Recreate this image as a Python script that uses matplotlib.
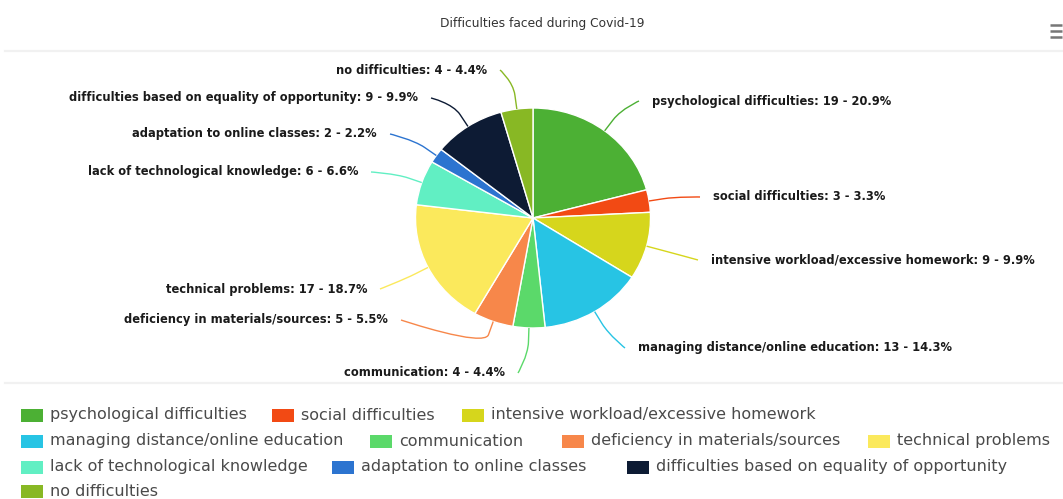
import numpy as np
import matplotlib
matplotlib.use("Agg")
import matplotlib.pyplot as plt
from matplotlib.path import Path
from matplotlib.patches import PathPatch, Rectangle

# ---- data -------------------------------------------------------------
categories = [
    "psychological difficulties",
    "social difficulties",
    "intensive workload/excessive homework",
    "managing distance/online education",
    "communication",
    "deficiency in materials/sources",
    "technical problems",
    "lack of technological knowledge",
    "adaptation to online classes",
    "difficulties based on equality of opportunity",
    "no difficulties",
]
counts = [19, 3, 9, 13, 4, 5, 17, 6, 2, 9, 4]
colors = [
    "#4cb034", "#f24a14", "#d6d61c", "#27c4e4", "#5bd96a", "#f7874a",
    "#fbe95c", "#61efc3", "#2c74d0", "#0d1b34", "#88b824",
]
title = "Difficulties faced during Covid-19"

# ---- layout (pixel units, origin top-left) ----------------------------
W, H = 1063, 499
CX, CY = 533, 218          # pie centre
RX, RY = 117.5, 110        # pie radii
# data-label anchor: (x, y, side) - side 'L' means text ends at x
label_pos = [
    (652, 101, "R"), (713, 197, "R"), (711, 260, "R"), (638, 348, "R"),
    (505, 373, "L"), (388, 320, "L"), (367, 289, "L"), (358, 172, "L"),
    (377, 134, "L"), (418, 98, "L"), (487, 70, "L"),
]
# legend: (row, x of the colour square)
legend_pos = [
    (0, 21), (0, 272), (0, 462),
    (1, 21), (1, 370), (1, 562), (1, 868),
    (2, 21), (2, 332), (2, 627),
    (3, 21),
]
legend_rows_y = [415, 441, 467, 492]

fig = plt.figure(figsize=(W / 100, H / 100), dpi=100)
ax = fig.add_axes([0, 0, 1, 1])


def px(x, y):
    """pixel (top-left origin) -> data units of the pie axes"""
    return (x - CX) / RX, (CY - y) / RY


ax.pie(counts, colors=colors, startangle=90, counterclock=False,
       radius=1, center=(0, 0),
       wedgeprops=dict(edgecolor="white", linewidth=1.0))
ax.set_aspect("auto")
ax.set_xlim(px(0, 0)[0], px(W, 0)[0])
ax.set_ylim(px(0, H)[1], px(0, 0)[1])
ax.axis("off")

# faint panel separators
for yy in (51, 383):
    x0, y0 = px(5, yy)
    x1, _ = px(W, yy)
    ax.plot([x0, x1], [y0, y0], color="#f1f1f1", lw=1.6, zorder=0)

# title
tx, ty = px(542, 23)
ax.text(tx, ty, title, ha="center", va="center", fontsize=8.8, color="#333333")

# menu icon
for yy in (25, 31, 37):
    a, b = px(1050, yy)
    c, _ = px(1062, yy)
    ax.plot([a, c], [b, b], color="#777777", lw=1.8, solid_capstyle="butt")

# data labels with soft connectors
total = sum(counts)
cum = np.cumsum([0] + counts[:-1])
for i, (name, v) in enumerate(zip(categories, counts)):
    frac_mid = (cum[i] + v / 2) / total
    ang = np.deg2rad(90 - 360 * frac_mid)
    ux, uy = np.cos(ang), -np.sin(ang)          # pixel-space direction
    edge = np.array([CX + RX * ux, CY + RY * uy])
    brk = np.array([CX + (RX + 14) * ux, CY + (RY + 14) * uy])
    ctrl = 2 * brk - edge
    lx, ly, side = label_pos[i]
    end = np.array([lx - 13 if side == "R" else lx + 13, ly])
    pts = [end, end, ctrl, brk, edge]
    verts = [px(*p) for p in pts]
    codes = [Path.MOVETO, Path.CURVE4, Path.CURVE4, Path.CURVE4, Path.LINETO]
    ax.add_patch(PathPatch(Path(verts, codes), fill=False,
                           edgecolor=colors[i], lw=1.0, zorder=3))
    pct = v / total * 100
    txt = f"{name}: {v} - {pct:.1f}%"
    X, Y = px(lx, ly)
    ax.text(X, Y, txt, ha="left" if side == "R" else "right", va="center",
            fontsize=8.3, fontweight="bold", color="#1a1a1a")

# legend
for i, name in enumerate(categories):
    row, sx = legend_pos[i]
    yc = legend_rows_y[row]
    x0, y0 = px(sx, yc + 6.5)
    x1, y1 = px(sx + 22, yc - 6.5)
    ax.add_patch(Rectangle((x0, y0), x1 - x0, y1 - y0, facecolor=colors[i],
                           edgecolor="none", zorder=3))
    X, Y = px(sx + 29, yc)
    ax.text(X, Y, name, ha="left", va="center", fontsize=11.5, color="#4a4a4a")

fig.savefig("out.png", dpi=100, facecolor="white")
